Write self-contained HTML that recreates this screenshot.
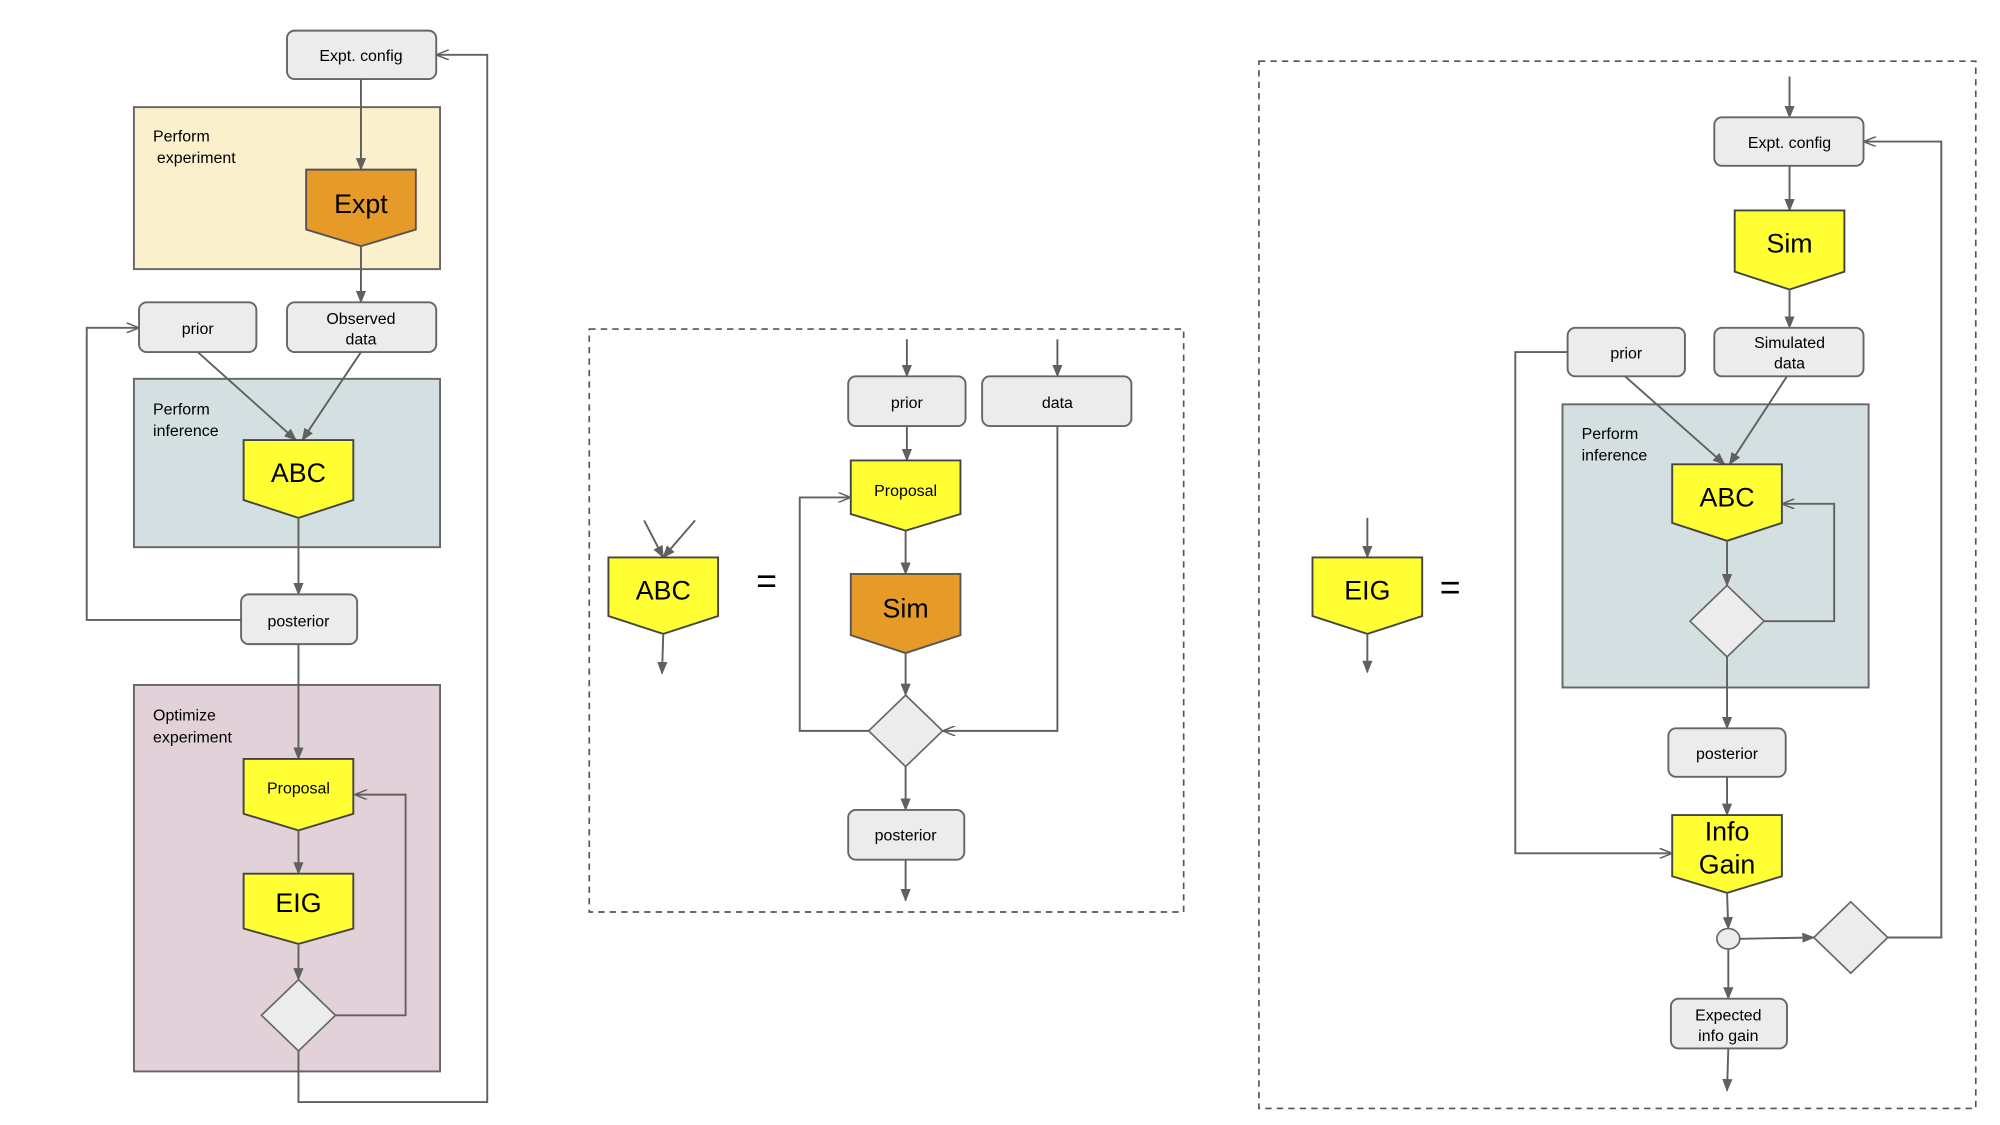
<!DOCTYPE html>
<html><head><meta charset="utf-8"><style>
html,body{margin:0;padding:0;background:#fff;width:2000px;height:1125px;overflow:hidden}
svg{display:block}
text{font-family:"Liberation Sans",sans-serif;fill:#000}
.b{fill:#ececec;stroke:#666;stroke-width:1.5}
.l{stroke:#606060;stroke-width:1.5;fill:none}
.y{fill:#ffff33;stroke:#444;stroke-width:1.5}
.o{fill:#e69a28;stroke:#555;stroke-width:1.5}
.d{fill:#ececec;stroke:#666;stroke-width:1.3}
.t{font-size:12.5px;text-anchor:middle}
.s{font-size:12.5px}
.g{font-size:21px;text-anchor:middle}
</style></head><body>
<svg width="2000" height="1125" viewBox="0 0 1568 882" xmlns="http://www.w3.org/2000/svg">
<defs><marker id="a" markerWidth="10" markerHeight="8" refX="9" refY="4" orient="auto" markerUnits="userSpaceOnUse"><path d="M0,0 L10,4 L0,8 Z" fill="#606060"/></marker>
<marker id="h" markerWidth="10" markerHeight="8" refX="9" refY="4" orient="auto" markerUnits="userSpaceOnUse"><path d="M0,0 L10,4 L0,8" fill="none" stroke="#606060" stroke-width="1.2"/></marker></defs>

<!-- LEFT -->
<rect x="105" y="84" width="240" height="127" fill="#fbf0cc" stroke="#666" stroke-width="1.5"/>
<text class="s" x="120" y="111">Perform</text><text class="s" x="123" y="128">experiment</text>
<rect x="105" y="297" width="240" height="132" fill="#d4dfe1" stroke="#666" stroke-width="1.5"/>
<text class="s" x="120" y="325">Perform</text><text class="s" x="120" y="342">inference</text>
<rect x="105" y="537" width="240" height="303" fill="#e3d1da" stroke="#666" stroke-width="1.5"/>
<text class="s" x="120" y="565">Optimize</text><text class="s" x="120" y="582">experiment</text>

<rect class="b" x="225" y="24" width="117" height="38" rx="6"/><text class="t" x="283" y="48">Expt. config</text>
<line class="l" x1="283" y1="62" x2="283" y2="133" marker-end="url(#a)"/>
<path class="o" d="M240,133 H326 V180 L283,193 L240,180 Z"/><text class="g" x="283" y="167">Expt</text>
<line class="l" x1="283" y1="193" x2="283" y2="237" marker-end="url(#a)"/>
<rect class="b" x="109" y="237" width="92" height="39" rx="6"/><text class="t" x="155" y="262">prior</text>
<rect class="b" x="225" y="237" width="117" height="39" rx="6"/><text class="t" x="283" y="254">Observed</text><text class="t" x="283" y="270">data</text>
<line class="l" x1="155" y1="276" x2="232" y2="345" marker-end="url(#a)"/>
<line class="l" x1="283" y1="276" x2="237" y2="345" marker-end="url(#a)"/>
<path class="y" d="M191,345 H277 V392 L234,406 L191,392 Z"/><text class="g" x="234" y="378">ABC</text>
<line class="l" x1="234" y1="406" x2="234" y2="466" marker-end="url(#a)"/>
<rect class="b" x="189" y="466" width="91" height="39" rx="6"/><text class="t" x="234" y="491">posterior</text>
<polyline class="l" points="189,486 68,486 68,257 108,257" marker-end="url(#h)"/>
<line class="l" x1="234" y1="505" x2="234" y2="595" marker-end="url(#a)"/>
<path class="y" d="M191,595 H277 V638 L234,651 L191,638 Z"/><text class="t" x="234" y="622">Proposal</text>
<line class="l" x1="234" y1="651" x2="234" y2="685" marker-end="url(#a)"/>
<path class="y" d="M191,685 H277 V728 L234,740 L191,728 Z"/><text class="g" x="234" y="715">EIG</text>
<line class="l" x1="234" y1="740" x2="234" y2="768" marker-end="url(#a)"/>
<path class="d" d="M234,768 L263,796 L234,824 L205,796 Z"/>
<polyline class="l" points="263,796 318,796 318,623 279,623" marker-end="url(#h)"/>
<polyline class="l" points="234,824 234,864 382,864 382,43 343,43" marker-end="url(#h)"/>

<!-- MIDDLE -->
<rect x="462" y="258" width="466" height="457" fill="none" stroke="#555" stroke-width="1.3" stroke-dasharray="5,4"/>
<line class="l" x1="711" y1="266" x2="711" y2="295" marker-end="url(#a)"/>
<line class="l" x1="829" y1="266" x2="829" y2="295" marker-end="url(#a)"/>
<rect class="b" x="665" y="295" width="92" height="39" rx="6"/><text class="t" x="711" y="320">prior</text>
<rect class="b" x="770" y="295" width="117" height="39" rx="6"/><text class="t" x="829" y="320">data</text>
<line class="l" x1="711" y1="334" x2="711" y2="361" marker-end="url(#a)"/>
<path class="y" d="M667,361 H753 V403 L710,416 L667,403 Z"/><text class="t" x="710" y="389">Proposal</text>
<line class="l" x1="710" y1="416" x2="710" y2="450" marker-end="url(#a)"/>
<path class="o" d="M667,450 H753 V498 L710,512 L667,498 Z"/><text class="g" x="710" y="484">Sim</text>
<line class="l" x1="710" y1="512" x2="710" y2="545" marker-end="url(#a)"/>
<path class="d" d="M710,545 L739,573 L710,601 L681,573 Z"/>
<polyline class="l" points="681,573 627,573 627,390 666,390" marker-end="url(#h)"/>
<polyline class="l" points="829,334 829,573 740,573" marker-end="url(#h)"/>
<line class="l" x1="710" y1="601" x2="710" y2="635" marker-end="url(#a)"/>
<rect class="b" x="665" y="635" width="91" height="39" rx="6"/><text class="t" x="710" y="659">posterior</text>
<line class="l" x1="710" y1="674" x2="710" y2="706" marker-end="url(#a)"/>
<line class="l" x1="505" y1="408" x2="520" y2="437" marker-end="url(#a)"/>
<line class="l" x1="545" y1="408" x2="520" y2="437" marker-end="url(#a)"/>
<path class="y" d="M477,437 H563 V483 L520,497 L477,483 Z"/><text class="g" x="520" y="470">ABC</text>
<line class="l" x1="520" y1="497" x2="519" y2="528" marker-end="url(#a)"/>
<text x="601" y="465" font-size="28" text-anchor="middle">=</text>

<!-- RIGHT -->
<rect x="987" y="48" width="562" height="821" fill="none" stroke="#555" stroke-width="1.3" stroke-dasharray="5,4"/>
<rect x="1225" y="317" width="240" height="222" fill="#d4dfe1" stroke="#666" stroke-width="1.5"/>
<text class="s" x="1240" y="344">Perform</text><text class="s" x="1240" y="361">inference</text>
<line class="l" x1="1403" y1="60" x2="1403" y2="92" marker-end="url(#a)"/>
<rect class="b" x="1344" y="92" width="117" height="38" rx="6"/><text class="t" x="1403" y="116">Expt. config</text>
<line class="l" x1="1403" y1="130" x2="1403" y2="165" marker-end="url(#a)"/>
<path class="y" d="M1360,165 H1446 V213 L1403,227 L1360,213 Z"/><text class="g" x="1403" y="198">Sim</text>
<line class="l" x1="1403" y1="227" x2="1403" y2="257" marker-end="url(#a)"/>
<rect class="b" x="1229" y="257" width="92" height="38" rx="6"/><text class="t" x="1275" y="281">prior</text>
<rect class="b" x="1344" y="257" width="117" height="38" rx="6"/><text class="t" x="1403" y="273">Simulated</text><text class="t" x="1403" y="289">data</text>
<line class="l" x1="1274" y1="295" x2="1352" y2="364" marker-end="url(#a)"/>
<line class="l" x1="1401" y1="295" x2="1356" y2="364" marker-end="url(#a)"/>
<path class="y" d="M1311,364 H1397 V410 L1354,424 L1311,410 Z"/><text class="g" x="1354" y="397">ABC</text>
<line class="l" x1="1354" y1="424" x2="1354" y2="459" marker-end="url(#a)"/>
<path class="d" d="M1354,459 L1383,487 L1354,515 L1325,487 Z"/>
<polyline class="l" points="1383,487 1438,487 1438,395 1398,395" marker-end="url(#h)"/>
<line class="l" x1="1354" y1="515" x2="1354" y2="571" marker-end="url(#a)"/>
<rect class="b" x="1308" y="571" width="92" height="38" rx="6"/><text class="t" x="1354" y="595">posterior</text>
<line class="l" x1="1354" y1="609" x2="1354" y2="639" marker-end="url(#a)"/>
<path class="y" d="M1311,639 H1397 V687 L1354,700 L1311,687 Z"/><text class="g" x="1354" y="659">Info</text><text class="g" x="1354" y="685">Gain</text>
<polyline class="l" points="1229,276 1188,276 1188,669 1310,669" marker-end="url(#h)"/>
<line class="l" x1="1354" y1="700" x2="1355" y2="728" marker-end="url(#a)"/>
<ellipse cx="1355" cy="736" rx="9" ry="8" class="d"/>
<line class="l" x1="1364" y1="736" x2="1422" y2="735" marker-end="url(#a)"/>
<path class="d" d="M1451,707 L1480,735 L1451,763 L1422,735 Z"/>
<polyline class="l" points="1480,735 1522,735 1522,111 1462,111" marker-end="url(#h)"/>
<line class="l" x1="1355" y1="744" x2="1355" y2="783" marker-end="url(#a)"/>
<rect class="b" x="1310" y="783" width="91" height="39" rx="6"/><text class="t" x="1355" y="800">Expected</text><text class="t" x="1355" y="816">info gain</text>
<line class="l" x1="1355" y1="822" x2="1354" y2="855" marker-end="url(#a)"/>
<line class="l" x1="1072" y1="406" x2="1072" y2="437" marker-end="url(#a)"/>
<path class="y" d="M1029,437 H1115 V483 L1072,497 L1029,483 Z"/><text class="g" x="1072" y="470">EIG</text>
<line class="l" x1="1072" y1="497" x2="1072" y2="527" marker-end="url(#a)"/>
<text x="1137" y="470" font-size="28" text-anchor="middle">=</text>
</svg>
</body></html>
